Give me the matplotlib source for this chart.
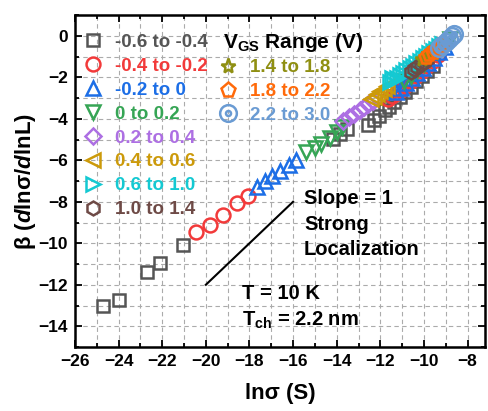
import matplotlib
matplotlib.use("Agg")
import matplotlib.pyplot as plt
from matplotlib.path import Path
from matplotlib.ticker import MultipleLocator

plt.rcParams['font.family'] = ['Liberation Sans', 'DejaVu Sans']
plt.rcParams['font.weight'] = 'bold'
plt.rcParams['mathtext.fontset'] = 'custom'
plt.rcParams['mathtext.rm'] = 'Liberation Sans:bold'
plt.rcParams['mathtext.bf'] = 'Liberation Sans:bold'
plt.rcParams['mathtext.it'] = 'Liberation Sans:italic:bold'
plt.rcParams['mathtext.bfit'] = 'Liberation Sans:italic:bold'
plt.rcParams['axes.unicode_minus'] = True

# ---------------- data ----------------
labels = ['-0.6 to -0.4', '-0.4 to -0.2', '-0.2 to 0', '0 to 0.2', '0.2 to 0.4',
          '0.4 to 0.6', '0.6 to 1.0', '1.0 to 1.4', '1.4 to 1.8', '1.8 to 2.2', '2.2 to 3.0']
colors = ['#555555', '#f23a3a', '#1c6ee6', '#36a555', '#ad6fe3', '#cc9a0a',
          '#14c9d2', '#6e4a46', '#8f8f12', '#ff6a0a', '#6a9bd3']

s1_x = [-24.7, -24.0, -22.7, -22.1, -21.05, -14.15, -13.85, -13.55, -12.55, -12.3, -12.05,
        -11.8, -11.6, -11.35, -11.1, -10.85, -10.6, -10.35, -10.1, -9.85, -9.6]
s1_y = [-13.0, -12.75, -11.4, -10.97, -10.08, -4.98, -4.75, -4.5, -4.3, -4.05, -3.85,
        -3.6, -3.45, -3.2, -2.95, -2.7, -2.45, -2.2, -1.95, -1.7, -1.45]

s2_x = [-20.45, -19.8, -19.2, -18.55, -18.05, -11.65, -11.45, -11.25, -11.05, -10.85,
        -10.6, -10.35, -10.1, -9.85, -9.6, -9.35]
s2_y = [-9.45, -9.1, -8.65, -8.05, -7.7, -3.05, -2.9, -2.75, -2.6, -2.4,
        -2.2, -1.95, -1.7, -1.45, -1.2, -0.95]

s3_x = [-17.65, -17.3, -16.95, -16.6, -16.2, -15.85, -11.3, -11.05, -10.8, -10.55,
        -10.3, -10.05, -9.8, -9.55, -9.3, -9.05]
s3_y = [-7.3, -7.0, -6.75, -6.5, -6.25, -6.0, -2.7, -2.5, -2.3, -2.05,
        -1.8, -1.55, -1.3, -1.05, -0.8, -0.55]

s4_x = [-15.4, -15.0, -14.7, -14.3, -14.0, -13.75, -10.9, -10.6, -10.3, -10.0,
        -9.7, -9.4, -9.1, -8.8]
s4_y = [-5.6, -5.4, -5.2, -4.95, -4.65, -4.4, -2.2, -1.95, -1.65, -1.35,
        -1.05, -0.75, -0.45, -0.15]

s5_x = [-13.7, -13.45, -13.2, -12.95, -12.75, -12.55, -12.35]
s5_y = [-4.1, -3.93, -3.77, -3.6, -3.45, -3.3, -3.15]

s6_x = [-12.45, -12.3, -12.15, -12.0, -11.85, -11.7]
s6_y = [-3.05, -2.93, -2.8, -2.68, -2.55, -2.43]

s7_x = [-11.55, -11.45, -11.35, -11.25, -11.1, -10.95, -10.8, -10.65, -10.5, -10.35, -10.2,
        -10.05, -9.9, -9.75, -9.6, -9.45, -9.3, -9.15]
s7_y = [-2.25, -2.05, -2.15, -2.02, -1.9, -1.78, -1.67, -1.55, -1.44, -1.32, -1.2,
        -1.08, -0.97, -0.85, -0.74, -0.62, -0.5, -0.4]

s8_x = [-10.6, -10.45, -10.3, -10.15, -10.0, -9.85]
s8_y = [-1.75, -1.62, -1.5, -1.37, -1.25, -1.12]

s9_x = [-10.1, -9.95, -9.8, -9.65]
s9_y = [-1.1, -1.0, -0.9, -0.8]

s10_x = [-9.9, -9.75, -9.6, -9.45, -9.3, -9.15]
s10_y = [-1.0, -0.88, -0.77, -0.65, -0.54, -0.43]

s11_x = [-9.3, -9.15, -9.0, -8.85, -8.7, -8.6]
s11_y = [-0.6, -0.45, -0.3, -0.15, 0.0, 0.1]

ref_x = [-20, -16]
ref_y = [-12, -8]

series_x = [s1_x, s2_x, s3_x, s4_x, s5_x, s6_x, s7_x, s8_x, s9_x, s10_x, s11_x]
series_y = [s1_y, s2_y, s3_y, s4_y, s5_y, s6_y, s7_y, s8_y, s9_y, s10_y, s11_y]

# circle-with-dot marker
dot_circle = Path.make_compound_path(Path.unit_circle(), Path.circle((0, 0), 0.3))
markers = ['s', 'o', '^', 'v', 'D', '<', '>', 'h', '*', 'p', dot_circle]
sizes = [9, 10, 10, 10, 8, 10, 10, 10, 11, 11, 12]

# ---------------- plot ----------------
fig = plt.figure(figsize=(4.89, 4.11), dpi=100)
ax = fig.add_axes([0.1534, 0.1557, 0.8384, 0.8078])

handles = []
for xs, ys, c, m, ms, lab in zip(series_x, series_y, colors, markers, sizes, labels):
    h, = ax.plot(xs, ys, ls='none', marker=m, ms=ms, mfc='none', mec=c, mew=1.8, label=lab)
    handles.append(h)

ax.plot(ref_x, ref_y, color='black', lw=1.5)

ax.set_xlim(-26, -7.2)
ax.set_ylim(-15, 1)
ax.xaxis.set_major_locator(MultipleLocator(2))
ax.xaxis.set_minor_locator(MultipleLocator(1))
ax.yaxis.set_major_locator(MultipleLocator(2))
ax.yaxis.set_minor_locator(MultipleLocator(1))
ax.grid(True, which='both', ls=(0, (4, 3)), color='#ababab', lw=0.8)
ax.set_axisbelow(True)
ax.tick_params(which='both', direction='in', top=True, right=True, width=1.3)
ax.tick_params(which='major', length=5, labelsize=12.5, pad=5)
ax.tick_params(which='minor', length=3)
for sp in ax.spines.values():
    sp.set_linewidth(1.8)

ax.set_xlabel('lnσ (S)', fontsize=16, fontweight='bold', labelpad=10)
ax.set_ylabel(r'β ($\mathbfit{d}$lnσ/$\mathbfit{d}$lnL)', fontsize=16, fontweight='bold', labelpad=0)

leg1 = ax.legend(handles[:8], labels[:8], loc='upper left', bbox_to_anchor=(0.017, 0.943),
                 frameon=False, handlelength=1.2, handletextpad=0.55,
                 labelspacing=0.36, borderpad=0, borderaxespad=0,
                 prop={'weight': 'bold', 'size': 13.5})
for t, c in zip(leg1.get_texts(), colors[:8]):
    t.set_color(c)
ax.add_artist(leg1)
leg2 = ax.legend(handles[8:], labels[8:], loc='upper left', bbox_to_anchor=(0.346, 0.867),
                 frameon=False, handlelength=1.2, handletextpad=0.55,
                 labelspacing=0.36, borderpad=0, borderaxespad=0,
                 prop={'weight': 'bold', 'size': 13.5})
for t, c in zip(leg2.get_texts(), colors[8:]):
    t.set_color(c)

ax.text(0.361, 0.918, r'$\mathbf{V_{GS}}$ Range (V)', transform=ax.transAxes,
        fontsize=15, fontweight='bold', va='center', ha='left')

ax.text(-15.5, -7.85, 'Slope = 1', fontsize=14.5, fontweight='bold', va='center')
ax.text(-15.5, -9.1, 'Strong', fontsize=14.5, fontweight='bold', va='center')
ax.text(-15.5, -10.3, 'Localization', fontsize=14.5, fontweight='bold', va='center')
ax.text(-18.35, -12.4, 'T = 10 K', fontsize=14.5, fontweight='bold', va='center')
ax.text(-18.35, -13.7, r'T$_{\mathbf{ch}}$ = 2.2 nm', fontsize=14.5, fontweight='bold', va='center')

fig.savefig('out.png', dpi=100)
